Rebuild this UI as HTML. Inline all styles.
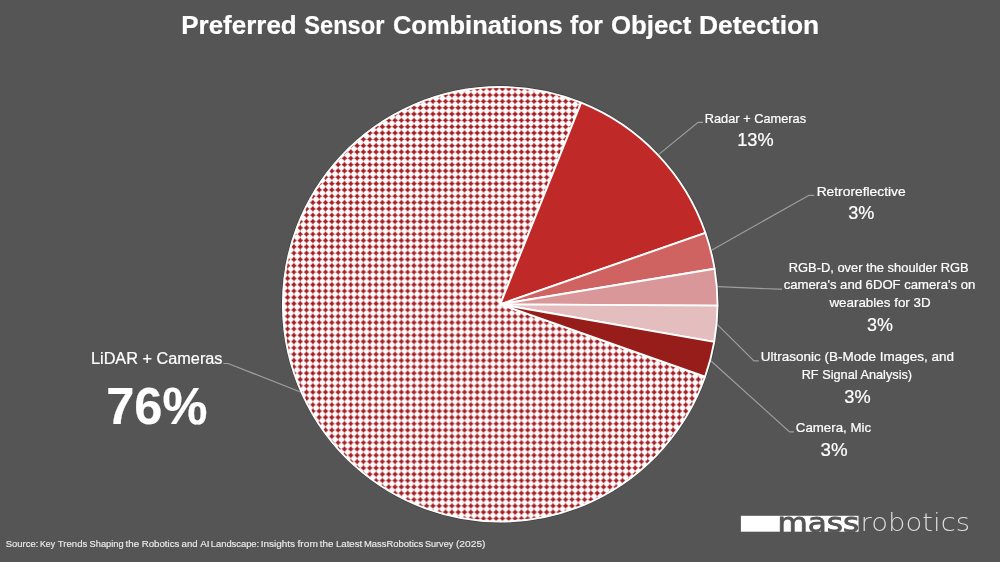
<!DOCTYPE html>
<html lang="en"><head><meta charset="utf-8"><title>Preferred Sensor Combinations for Object Detection</title>
<style>
html,body{margin:0;padding:0;background:#555555;}
body{width:1000px;height:562px;overflow:hidden;position:relative;}
svg{display:block;position:absolute;left:0;top:0;}
text{font-family:"Liberation Sans",Arial,sans-serif;fill:#fff;stroke:#fff;stroke-width:0.22px;}
.b{font-weight:bold;}
.lead{fill:none;stroke:#9E9E9E;stroke-width:1.2;}
.sl{stroke:#fff;stroke-width:1.9;stroke-linejoin:bevel;}
.logo{font-family:"DejaVu Sans","Liberation Sans",sans-serif;}
</style></head><body>
<svg width="1000" height="562" viewBox="0 0 1000 562">
<defs>
<pattern id="dots" x="9.500" y="0.260" width="18.960" height="18.960" patternUnits="userSpaceOnUse">
<rect width="18.96" height="18.96" fill="#fff"/>
<path fill="#A51C22" d="M2.950 0.000Q1.050 1.050 0.000 2.950Q-1.050 1.050 -2.950 0.000Q-1.050 -1.050 0.000 -2.950Q1.050 -1.050 2.950 0.000ZM2.950 6.320Q1.050 7.370 0.000 9.270Q-1.050 7.370 -2.950 6.320Q-1.050 5.270 0.000 3.370Q1.050 5.270 2.950 6.320ZM2.950 12.640Q1.050 13.690 0.000 15.590Q-1.050 13.690 -2.950 12.640Q-1.050 11.590 0.000 9.690Q1.050 11.590 2.950 12.640ZM2.950 18.960Q1.050 20.010 0.000 21.910Q-1.050 20.010 -2.950 18.960Q-1.050 17.910 0.000 16.010Q1.050 17.910 2.950 18.960ZM9.270 0.000Q7.370 1.050 6.320 2.950Q5.270 1.050 3.370 0.000Q5.270 -1.050 6.320 -2.950Q7.370 -1.050 9.270 0.000ZM9.270 6.320Q7.370 7.370 6.320 9.270Q5.270 7.370 3.370 6.320Q5.270 5.270 6.320 3.370Q7.370 5.270 9.270 6.320ZM9.270 12.640Q7.370 13.690 6.320 15.590Q5.270 13.690 3.370 12.640Q5.270 11.590 6.320 9.690Q7.370 11.590 9.270 12.640ZM9.270 18.960Q7.370 20.010 6.320 21.910Q5.270 20.010 3.370 18.960Q5.270 17.910 6.320 16.010Q7.370 17.910 9.270 18.960ZM15.590 0.000Q13.690 1.050 12.640 2.950Q11.590 1.050 9.690 0.000Q11.590 -1.050 12.640 -2.950Q13.690 -1.050 15.590 0.000ZM15.590 6.320Q13.690 7.370 12.640 9.270Q11.590 7.370 9.690 6.320Q11.590 5.270 12.640 3.370Q13.690 5.270 15.590 6.320ZM15.590 12.640Q13.690 13.690 12.640 15.590Q11.590 13.690 9.690 12.640Q11.590 11.590 12.640 9.690Q13.690 11.590 15.590 12.640ZM15.590 18.960Q13.690 20.010 12.640 21.910Q11.590 20.010 9.690 18.960Q11.590 17.910 12.640 16.010Q13.690 17.910 15.590 18.960ZM21.910 0.000Q20.010 1.050 18.960 2.950Q17.910 1.050 16.010 0.000Q17.910 -1.050 18.960 -2.950Q20.010 -1.050 21.910 0.000ZM21.910 6.320Q20.010 7.370 18.960 9.270Q17.910 7.370 16.010 6.320Q17.910 5.270 18.960 3.370Q20.010 5.270 21.910 6.320ZM21.910 12.640Q20.010 13.690 18.960 15.590Q17.910 13.690 16.010 12.640Q17.910 11.590 18.960 9.690Q20.010 11.590 21.910 12.640ZM21.910 18.960Q20.010 20.010 18.960 21.910Q17.910 20.010 16.010 18.960Q17.910 17.910 18.960 16.010Q20.010 17.910 21.910 18.960Z"/>
</pattern>
</defs>
<rect width="1000" height="562" fill="#555555"/>
<polyline class="lead" points="659.1,154.1 698.1,122.4 703.0,122.4"/>
<polyline class="lead" points="711.5,250.2 809.0,195.3 814.2,195.3"/>
<polyline class="lead" points="718.0,286.7 778.4,289.2 782.0,289.2"/>
<polyline class="lead" points="717.4,324.6 754.0,360.9 758.8,360.9"/>
<polyline class="lead" points="711.0,361.0 789.6,431.9 794.0,431.9"/>
<polyline class="lead" points="223.3,363.5 228.0,363.5 300.5,392.0"/>
<circle cx="500.2" cy="304.3" r="218.60" fill="none" stroke="#000" stroke-opacity="0.28" stroke-width="0.9"/>
<path class="sl" fill="url(#dots)" d="M500.20 304.30L705.06 376.76A217.3 217.3 0 1 1 581.14 102.64Z"/>
<path class="sl" fill="#BF2A28" d="M500.20 304.30L581.14 102.64A217.3 217.3 0 0 1 705.45 232.94Z"/>
<path class="sl" fill="#CF6361" d="M500.20 304.30L705.45 232.94A217.3 217.3 0 0 1 714.58 268.77Z"/>
<path class="sl" fill="#D99799" d="M500.20 304.30L714.58 268.77A217.3 217.3 0 0 1 717.50 305.59Z"/>
<path class="sl" fill="#E4BEBE" d="M500.20 304.30L717.50 305.59A217.3 217.3 0 0 1 714.22 341.92Z"/>
<path class="sl" fill="#971D1A" d="M500.20 304.30L714.22 341.92A217.3 217.3 0 0 1 705.06 376.76Z"/>
<text class="b" y="33.8" font-size="26.7"><tspan x="181.26" textLength="115.45" lengthAdjust="spacingAndGlyphs">Preferred</tspan> <tspan x="304.32" textLength="80.04" lengthAdjust="spacingAndGlyphs">Sensor</tspan> <tspan x="392.96" textLength="169.69" lengthAdjust="spacingAndGlyphs">Combinations</tspan> <tspan x="569.98" textLength="32.79" lengthAdjust="spacingAndGlyphs">for</tspan> <tspan x="610.94" textLength="80.38" lengthAdjust="spacingAndGlyphs">Object</tspan> <tspan x="699.03" textLength="120.20" lengthAdjust="spacingAndGlyphs">Detection</tspan></text>
<text x="704.75" y="122.5" font-size="13.1" textLength="101.31" lengthAdjust="spacingAndGlyphs">Radar + Cameras</text>
<text x="737.21" y="146.4" font-size="19" textLength="36.44" lengthAdjust="spacingAndGlyphs">13%</text>
<text x="816.67" y="195.5" font-size="13.1" textLength="88.95" lengthAdjust="spacingAndGlyphs">Retroreflective</text>
<text x="848.31" y="219.3" font-size="19" textLength="26.13" lengthAdjust="spacingAndGlyphs">3%</text>
<text x="788.74" y="271.6" font-size="13.1" textLength="179.84" lengthAdjust="spacingAndGlyphs">RGB-D, over the shoulder RGB</text>
<text x="783.64" y="289.2" font-size="13.1" textLength="191.71" lengthAdjust="spacingAndGlyphs">camera's and 6DOF camera's on</text>
<text x="829.42" y="306.8" font-size="13.1" textLength="101.22" lengthAdjust="spacingAndGlyphs">wearables for 3D</text>
<text x="867.12" y="331.3" font-size="19" textLength="25.92" lengthAdjust="spacingAndGlyphs">3%</text>
<text x="760.86" y="361.4" font-size="13.1" textLength="193.11" lengthAdjust="spacingAndGlyphs">Ultrasonic (B-Mode Images, and</text>
<text x="801.65" y="379.2" font-size="13.1" textLength="110.44" lengthAdjust="spacingAndGlyphs">RF Signal Analysis)</text>
<text x="844.31" y="403.1" font-size="19" textLength="26.34" lengthAdjust="spacingAndGlyphs">3%</text>
<text x="795.82" y="432.2" font-size="13.1" textLength="75.33" lengthAdjust="spacingAndGlyphs">Camera, Mic</text>
<text x="820.49" y="456.1" font-size="19" textLength="27.08" lengthAdjust="spacingAndGlyphs">3%</text>
<text x="90.97" y="363.9" font-size="16" textLength="131.52" lengthAdjust="spacingAndGlyphs">LiDAR + Cameras</text>
<text class="b" x="106.23" y="423.6" font-size="52" textLength="101.10" lengthAdjust="spacingAndGlyphs">76%</text>
<text style="fill:#ececec;stroke:#ececec;stroke-width:0.15px" y="546.9" font-size="9.4"><tspan x="5.82" textLength="32.54" lengthAdjust="spacingAndGlyphs">Source:</tspan> <tspan x="40.03" textLength="14.98" lengthAdjust="spacingAndGlyphs">Key</tspan> <tspan x="57.78" textLength="29.56" lengthAdjust="spacingAndGlyphs">Trends</tspan> <tspan x="89.58" textLength="34.02" lengthAdjust="spacingAndGlyphs">Shaping</tspan> <tspan x="125.60" textLength="13.58" lengthAdjust="spacingAndGlyphs">the</tspan> <tspan x="141.70" textLength="37.65" lengthAdjust="spacingAndGlyphs">Robotics</tspan> <tspan x="181.59" textLength="16.03" lengthAdjust="spacingAndGlyphs">and</tspan> <tspan x="200.18" textLength="9.33" lengthAdjust="spacingAndGlyphs">AI</tspan> <tspan x="210.83" textLength="48.32" lengthAdjust="spacingAndGlyphs">Landscape:</tspan> <tspan x="260.68" textLength="34.28" lengthAdjust="spacingAndGlyphs">Insights</tspan> <tspan x="297.56" textLength="20.32" lengthAdjust="spacingAndGlyphs">from</tspan> <tspan x="319.85" textLength="13.58" lengthAdjust="spacingAndGlyphs">the</tspan> <tspan x="335.90" textLength="26.37" lengthAdjust="spacingAndGlyphs">Latest</tspan> <tspan x="364.03" textLength="59.12" lengthAdjust="spacingAndGlyphs">MassRobotics</tspan> <tspan x="424.99" textLength="28.23" lengthAdjust="spacingAndGlyphs">Survey</tspan> <tspan x="455.96" textLength="29.57" lengthAdjust="spacingAndGlyphs">(2025)</tspan></text>
<rect x="740.9" y="515.8" width="117.6" height="15.9" fill="#fff"/>
<text class="logo" x="777.4" y="531.6" font-size="26" style="fill:#555555;stroke:#555555;stroke-width:0.8" textLength="81.8" lengthAdjust="spacingAndGlyphs">mass</text>
<text class="logo" x="860.6" y="531.2" font-size="24" font-weight="200" style="fill:#dcdcdc;stroke:none;font-family:'DejaVu Sans Light','DejaVu Sans',sans-serif" textLength="109.5" lengthAdjust="spacingAndGlyphs">robotics</text>
</svg>
</body></html>
